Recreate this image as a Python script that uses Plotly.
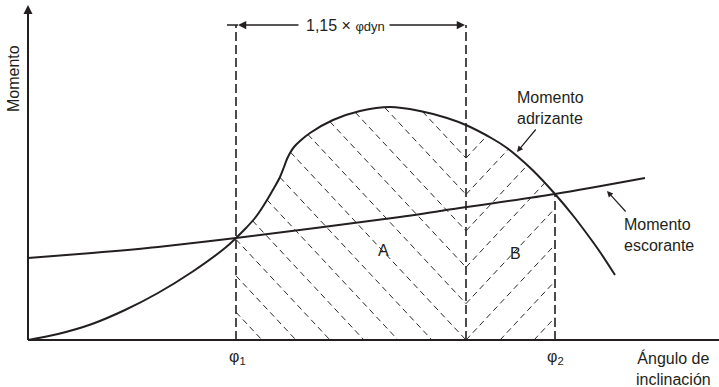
import numpy as np
import plotly.graph_objects as go

# ---- data (angle units on x, moment units on y) ----
righting_x = [0, 30, 64, 97, 130, 164, 197, 208, 218, 227, 234, 239, 246, 252, 256, 259, 262,
              266, 272, 282, 305, 332, 362, 392, 419, 439, 465, 479, 489, 505, 527, 545, 562,
              572, 587]
righting_y = [0, 6, 16, 30, 47, 68, 92, 102, 112, 122, 132, 140, 152, 163, 173, 181, 187,
              193, 199, 207, 220, 229, 233, 229, 222, 214.5, 201, 192, 184, 169.5, 146, 124.5,
              102, 88, 65]
heeling_x = [0, 64, 130, 208, 372, 412, 527, 617]
heeling_y = [82, 87, 93, 102, 123, 129, 146, 162]

phi1 = 208
phi_mid = 438          # phi1 + 1.15 * phi_dyn
phi2 = 527
dim_level = 315        # height of the 1,15 x phi_dyn dimension line
y_top = 335
x_end = 691

hatch_step = 34
hatch_slope = 1.07

INK = "#231f20"
FONT = "Liberation Sans, Arial, Helvetica, sans-serif"

rx = np.array(righting_x, float)
ry = np.array(righting_y, float)


def R(x):
    return np.interp(x, rx, ry)


def clip_line(x0, sign, xa, xb):
    # line through (x0, 0); sign=-1 -> "\" , sign=+1 -> "/"
    xs = np.linspace(xa, xb, 6000)
    ys = sign * hatch_slope * (xs - x0)
    m = (ys >= -0.01) & (ys <= R(xs))
    if m.sum() < 2:
        return None
    idx = np.where(m)[0]
    xa_, xb_ = xs[idx[0]], xs[idx[-1]]
    return [xa_, xb_], [sign * hatch_slope * (xa_ - x0), sign * hatch_slope * (xb_ - x0)]


hx_a, hy_a, hx_b, hy_b = [], [], [], []
for j in range(-12, 10):
    x0 = phi_mid + hatch_step * j
    seg = clip_line(x0, -1, phi1, phi_mid)
    if seg:
        hx_a += seg[0] + [None]
        hy_a += seg[1] + [None]
    seg = clip_line(x0, 1, phi_mid, phi2)
    if seg:
        hx_b += seg[0] + [None]
        hy_b += seg[1] + [None]

fig = go.Figure()

hatch_line = dict(color="#2a2a2a", width=1, dash="6px,4px")
fig.add_trace(go.Scatter(x=hx_a, y=hy_a, mode="lines", line=hatch_line, hoverinfo="skip"))
fig.add_trace(go.Scatter(x=hx_b, y=hy_b, mode="lines", line=hatch_line, hoverinfo="skip"))

# vertical dashed lines
vdash = dict(color=INK, width=1.6, dash="9px,4px")
fig.add_trace(go.Scatter(x=[phi1, phi1], y=[0, dim_level], mode="lines", line=vdash))
fig.add_trace(go.Scatter(x=[phi_mid, phi_mid], y=[0, dim_level], mode="lines", line=vdash))
fig.add_trace(go.Scatter(x=[phi2, phi2], y=[0, R(phi2)], mode="lines", line=vdash))

# curves
fig.add_trace(go.Scatter(x=righting_x, y=righting_y, mode="lines",
                         line=dict(color=INK, width=2, shape="spline", smoothing=1.0)))
fig.add_trace(go.Scatter(x=heeling_x, y=heeling_y, mode="lines",
                         line=dict(color=INK, width=2, shape="spline", smoothing=0.8)))

# axes
fig.add_trace(go.Scatter(x=[0, x_end], y=[0, 0], mode="lines", line=dict(color=INK, width=2)))
fig.add_trace(go.Scatter(x=[0, 0], y=[0, y_top - 8], mode="lines", line=dict(color=INK, width=2)))
# small T at the left of the dimension line
fig.add_trace(go.Scatter(x=[phi1 - 9, phi1 + 2], y=[dim_level, dim_level], mode="lines",
                         line=dict(color=INK, width=1.5)))

ann = []


def arrow(xh, yh, xt, yt, w=1.5, size=1.0, head=2):
    ann.append(dict(x=xh, y=yh, ax=xt, ay=yt, xref="x", yref="y", axref="x", ayref="y",
                    text="", showarrow=True, arrowhead=head, arrowsize=size,
                    arrowwidth=w, arrowcolor=INK, standoff=0, startstandoff=0))


arrow(0, y_top, 0, y_top - 20, w=2, size=0.9)
arrow(phi1 + 2, dim_level, 272, dim_level, w=1.5, size=1.1)
arrow(phi_mid - 1, dim_level, 360, dim_level, w=1.5, size=1.1)
arrow(489, 188, 509, 212, w=1.2, size=1.0)
arrow(579, 149, 599, 127, w=1.2, size=1.0)


def label(x, y, text, size=16, xanchor="center", align="center", angle=0):
    ann.append(dict(x=x, y=y, xref="x", yref="y", text=text, showarrow=False,
                    xanchor=xanchor, yanchor="middle", align=align, textangle=angle,
                    font=dict(family=FONT, size=size, color=INK)))


label(317, dim_level, "1,15 × <span style='font-size:13px'>φdyn</span>")
label(-15, 261, "Momento", angle=-90)
label(487, 232, "Momento<br>adrizante", xanchor="left", align="left")
label(594, 105, "Momento<br>escorante", xanchor="left", align="left")
label(355, 90, "A")
label(487, 87, "B")
label(phi1 + 1, -17, "φ<sub>1</sub>")
label(phi2, -17, "φ<sub>2</sub>")
label(645, -28, "Ángulo de<br>inclinación")

fig.update_layout(
    width=719, height=387,
    margin=dict(l=0, r=0, t=0, b=0),
    paper_bgcolor="white", plot_bgcolor="white",
    showlegend=False,
    xaxis=dict(range=[-28, 691], visible=False, fixedrange=True),
    yaxis=dict(range=[-47, 340], visible=False, fixedrange=True),
    annotations=ann,
)

fig.write_html("out.html")
